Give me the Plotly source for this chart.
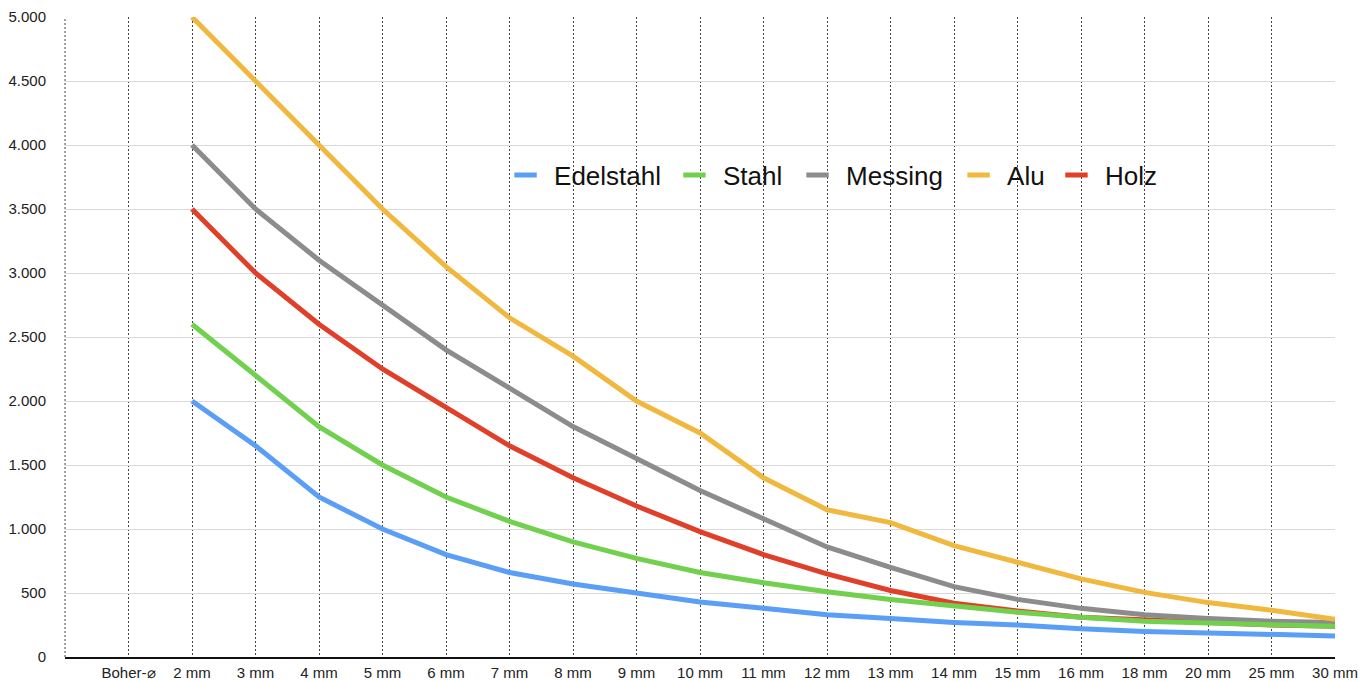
import plotly.graph_objects as go

categories = ["Boher-⌀", "2 mm", "3 mm", "4 mm", "5 mm", "6 mm", "7 mm", "8 mm", "9 mm",
              "10 mm", "11 mm", "12 mm", "13 mm", "14 mm", "15 mm", "16 mm", "18 mm",
              "20 mm", "25 mm", "30 mm"]

edelstahl = [None, 2000, 1650, 1250, 1000, 800, 660, 570, 500, 430, 380, 330, 300, 270, 250, 220, 200, 190, 175, 165]
stahl     = [None, 2600, 2200, 1800, 1500, 1250, 1060, 900, 770, 660, 580, 510, 450, 400, 350, 310, 280, 265, 250, 240]
messing   = [None, 4000, 3500, 3100, 2750, 2400, 2100, 1800, 1550, 1300, 1080, 860, 700, 550, 450, 380, 330, 300, 280, 270]
alu       = [None, 5000, 4500, 4000, 3500, 3050, 2650, 2350, 2000, 1750, 1400, 1150, 1050, 870, 740, 610, 505, 425, 365, 295]
holz      = [None, 3500, 3000, 2600, 2250, 1950, 1650, 1400, 1180, 980, 800, 650, 520, 420, 360, 310, 290, 265, 250, 240]

series = [
    ("Edelstahl", edelstahl, "#5A9EF6"),
    ("Stahl", stahl, "#72D04F"),
    ("Messing", messing, "#8C8C8C"),
    ("Alu", alu, "#F0B83E"),
    ("Holz", holz, "#E0402A"),
]

y_ticks = [0, 500, 1000, 1500, 2000, 2500, 3000, 3500, 4000, 4500, 5000]

# legend anchor positions (paper x) for each entry
legend_x = [0.3402, 0.4732, 0.5701, 0.6969, 0.7740]

fig = go.Figure()
lookup = {n: (v, c) for n, v, c in series}
for name in ["Holz", "Messing", "Stahl", "Edelstahl", "Alu"]:
    vals, col = lookup[name]
    fig.add_trace(go.Scatter(x=categories, y=vals, mode="lines", name=name,
                             line=dict(color=col, width=5), showlegend=False,
                             connectgaps=False))

legend_layouts = {}
for i, (name, vals, col) in enumerate(series):
    lname = "legend" if i == 0 else f"legend{i + 1}"
    fig.add_trace(go.Scatter(x=[None], y=[None], mode="markers", name=name,
                             marker=dict(symbol="line-ew", size=25, color=col,
                                         line=dict(color=col, width=5)),
                             showlegend=True, legend=lname))
    legend_layouts[lname] = dict(
        orientation="h", x=legend_x[i], y=0.753, xanchor="left", yanchor="middle",
        font=dict(size=26, color="#111111",
                  family="Liberation Sans, Arial, sans-serif"),
        bgcolor="rgba(0,0,0,0)", borderwidth=0, itemwidth=47,
    )

fig.update_layout(
    width=1363, height=673,
    margin=dict(l=57, r=36, t=9, b=24, autoexpand=False),
    paper_bgcolor="white", plot_bgcolor="white",
    separators=",.",
    font=dict(family="Liberation Sans, Arial, sans-serif", color="#222222", size=15),
    showlegend=True,
    **legend_layouts,
)

fig.update_xaxes(
    type="category", categoryorder="array", categoryarray=categories,
    range=[-1, len(categories) - 1],
    showgrid=True, gridcolor="#444444", griddash="2px,2px", gridwidth=1,
    showline=True, linecolor="#111111", linewidth=1.5,
    ticks="", tickfont=dict(size=15, color="#222222"), ticklabelstandoff=1,
    zeroline=False, automargin=False,
)
fig.update_yaxes(
    range=[0, 5000], tickvals=y_ticks, tickformat=",d",
    showgrid=True, gridcolor="#d9d9d9", gridwidth=1,
    showline=False, zeroline=False, ticks="",
    tickfont=dict(size=15, color="#222222"), ticklabelstandoff=18,
    automargin=False,
)

# left-edge dotted line of the plot area
fig.add_shape(type="line", xref="x domain", yref="y domain", x0=0, x1=0, y0=0, y1=1,
              line=dict(color="#444444", width=1, dash="2px,2px"), layer="below")

fig.write_html("out.html")
